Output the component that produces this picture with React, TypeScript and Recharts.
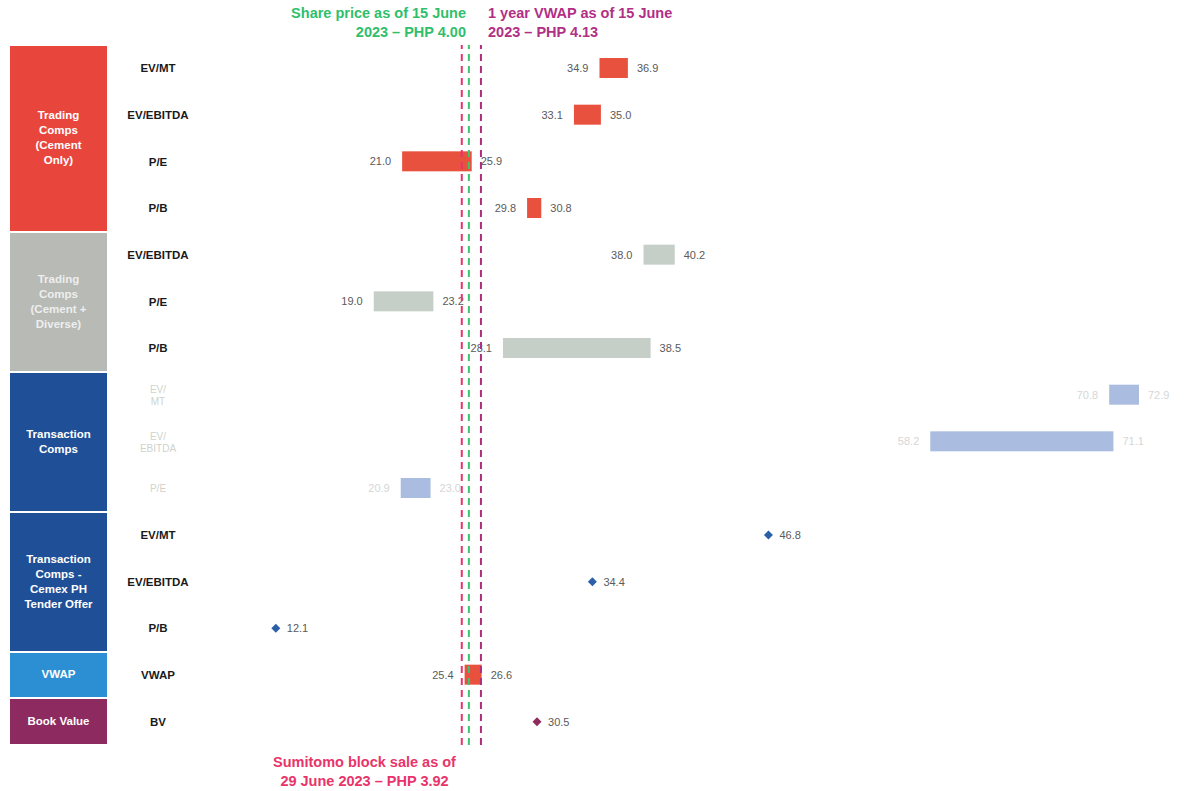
import React from 'react';
import { ComposedChart, Bar, Line, XAxis, YAxis, ReferenceLine } from 'recharts';

// rows, top to bottom
const rowIds = ['tc1', 'tc2', 'tc3', 'tc4', 'td1', 'td2', 'td3', 'tx1', 'tx2', 'tx3', 'cx1', 'cx2', 'cx3', 'vw1', 'bv1'];
const rowLabels = ['EV/MT', 'EV/EBITDA', 'P/E', 'P/B', 'EV/EBITDA', 'P/E', 'P/B', 'EV/ MT', 'EV/ EBITDA', 'P/E', 'EV/MT', 'EV/EBITDA', 'P/B', 'VWAP', 'BV'];
const rowGroups = ['cement', 'cement', 'cement', 'cement', 'diverse', 'diverse', 'diverse', 'txn', 'txn', 'txn', 'cemex', 'cemex', 'cemex', 'vwap', 'book'];
const rangeLow = [34.9, 33.1, 21.0, 29.8, 38.0, 19.0, 28.1, 70.8, 58.2, 20.9, null, null, null, 25.4, null];
const rangeHigh = [36.9, 35.0, 25.9, 30.8, 40.2, 23.2, 38.5, 72.9, 71.1, 23.0, null, null, null, 26.6, null];
const pointValues = [null, null, null, null, null, null, null, null, null, null, 46.8, 34.4, 12.1, null, 30.5];

// left-hand group boxes
const groupKeys = ['cement', 'diverse', 'txn', 'cemex', 'vwap', 'book'];
const groupNames = [
  'Trading\nComps\n(Cement\nOnly)',
  'Trading\nComps\n(Cement +\nDiverse)',
  'Transaction\nComps',
  'Transaction\nComps -\nCemex PH\nTender Offer',
  'VWAP',
  'Book Value',
];

// reference prices, in chart units
const sumitomoValue = 25.2;
const shareValue = 25.7;
const vwapValue = 26.55;

const data = rowIds.map((id, i) => ({
  id,
  label: rowLabels[i],
  group: rowGroups[i],
  low: rangeLow[i],
  high: rangeHigh[i],
  range: rangeLow[i] != null ? [rangeLow[i], rangeHigh[i]] : null,
  point: pointValues[i],
}));

const W = 1190;
const H = 791;
const M = { top: 45, right: 7, bottom: 46, left: 0 };
const YW = 104;
const rowH = (H - M.top - M.bottom) / rowIds.length;

const FONT = "'Liberation Sans Narrow', 'Liberation Sans', Arial, sans-serif";

const barColor: Record<string, string> = {
  cement: '#e9513f',
  diverse: '#c6cfc7',
  txn: '#aabde0',
  vwap: '#e9513f',
};
const pointColor: Record<string, string> = { cemex: '#2b5fa8', book: '#8e2a5c' };
const boxColor: Record<string, string> = {
  cement: '#e8463c',
  diverse: '#b7bab5',
  txn: '#1f4f97',
  cemex: '#1f4f97',
  vwap: '#2c8fd3',
  book: '#8d2a60',
};

const RangeShape = (props: any) => {
  const { x, y, width, height, payload } = props;
  if (payload.low == null || width == null) return <g />;
  const faded = payload.group === 'txn';
  const tc = faded ? '#d6d6d6' : '#5a5a5a';
  const cy = y + height / 2 + 4;
  return (
    <g>
      <rect x={x} y={y} width={Math.max(width, 1)} height={height} fill={barColor[payload.group]} />
      <text x={x - 11} y={cy} textAnchor="end" fontSize={11} fill={tc} fontFamily={FONT}>
        {payload.low.toFixed(1)}
      </text>
      <text x={x + width + 9} y={cy} textAnchor="start" fontSize={11} fill={tc} fontFamily={FONT}>
        {payload.high.toFixed(1)}
      </text>
    </g>
  );
};

const Diamond = (props: any) => {
  const { cx, cy, payload } = props;
  if (payload == null || payload.point == null || cx == null || isNaN(cx)) return <g key={props.key} />;
  const s = 4.5;
  return (
    <g key={props.key}>
      <path
        d={`M${cx},${cy - s} L${cx + s},${cy} L${cx},${cy + s} L${cx - s},${cy} Z`}
        fill={pointColor[payload.group]}
      />
      <text x={cx + 11} y={cy + 4} fontSize={11} fill="#5a5a5a" fontFamily={FONT}>
        {payload.point.toFixed(1)}
      </text>
    </g>
  );
};

const RowTick = (props: any) => {
  const { y, payload } = props;
  const row = data.find((d) => d.id === payload.value);
  if (!row) return <g />;
  const faded = row.group === 'txn';
  const lines = faded ? row.label.split(' ') : [row.label];
  return (
    <text
      x={158}
      y={y + 4 - (lines.length - 1) * 6}
      textAnchor="middle"
      fontSize={faded ? 10 : 11.5}
      fontWeight={faded ? 'normal' : 'bold'}
      fill={faded ? '#cfd3cc' : '#1a1a1a'}
      fontFamily={FONT}
    >
      {lines.map((l, i) => (
        <tspan key={i} x={158} dy={i === 0 ? 0 : 12}>
          {l}
        </tspan>
      ))}
    </text>
  );
};

export default function App() {
  const boxes = groupKeys.map((g, gi) => {
    const first = rowGroups.indexOf(g);
    const last = rowGroups.lastIndexOf(g);
    const top = M.top + first * rowH;
    const height = (last - first + 1) * rowH;
    return (
      <div
        key={g}
        style={{
          position: 'absolute',
          left: 10,
          top: top + 1,
          width: 97,
          height: height - 2,
          background: boxColor[g],
          color: g === 'diverse' ? '#eeeeee' : '#ffffff',
          fontFamily: FONT,
          fontWeight: 'bold',
          fontSize: 11.5,
          lineHeight: '15px',
          display: 'flex',
          alignItems: 'center',
          justifyContent: 'center',
          textAlign: 'center',
          whiteSpace: 'pre-line',
        }}
      >
        {groupNames[gi]}
      </div>
    );
  });

  const note = (text: string, color: string, style: React.CSSProperties) => (
    <div
      style={{
        position: 'absolute',
        color,
        fontFamily: FONT,
        fontWeight: 'bold',
        fontSize: 14.5,
        lineHeight: '19px',
        whiteSpace: 'pre',
        ...style,
      }}
    >
      {text}
    </div>
  );

  return (
    <div style={{ position: 'absolute', left: 0, top: 0, width: W, height: H, background: '#fff' }}>
      <ComposedChart width={W} height={H} data={data} layout="vertical" margin={M} barCategoryGap={0}>
        <XAxis type="number" domain={[0, 76]} hide />
        <YAxis
          type="category"
          dataKey="id"
          width={YW}
          axisLine={false}
          tickLine={false}
          interval={0}
          tick={<RowTick />}
        />
        <Bar dataKey="range" barSize={20} shape={<RangeShape />} isAnimationActive={false} />
        <Line
          dataKey="point"
          stroke="none"
          dot={<Diamond />}
          activeDot={false}
          legendType="none"
          isAnimationActive={false}
        />
        <ReferenceLine x={sumitomoValue} stroke="#e8336b" strokeWidth={2} strokeDasharray="7 5" />
        <ReferenceLine x={shareValue} stroke="#3cc46f" strokeWidth={2} strokeDasharray="7 5" />
        <ReferenceLine x={vwapValue} stroke="#b02c7e" strokeWidth={2} strokeDasharray="7 5" />
      </ComposedChart>
      {boxes}
      {note('Share price as of 15 June\n2023 – PHP 4.00', '#2fbf6c', { right: W - 466, top: 4, textAlign: 'right' })}
      {note('1 year VWAP as of 15 June\n2023 – PHP 4.13', '#b22f86', { left: 488, top: 4, textAlign: 'left' })}
      {note('Sumitomo block sale as of\n29 June 2023 – PHP 3.92', '#e8346a', { left: 262, top: 753, width: 205, textAlign: 'center' })}
    </div>
  );
}
